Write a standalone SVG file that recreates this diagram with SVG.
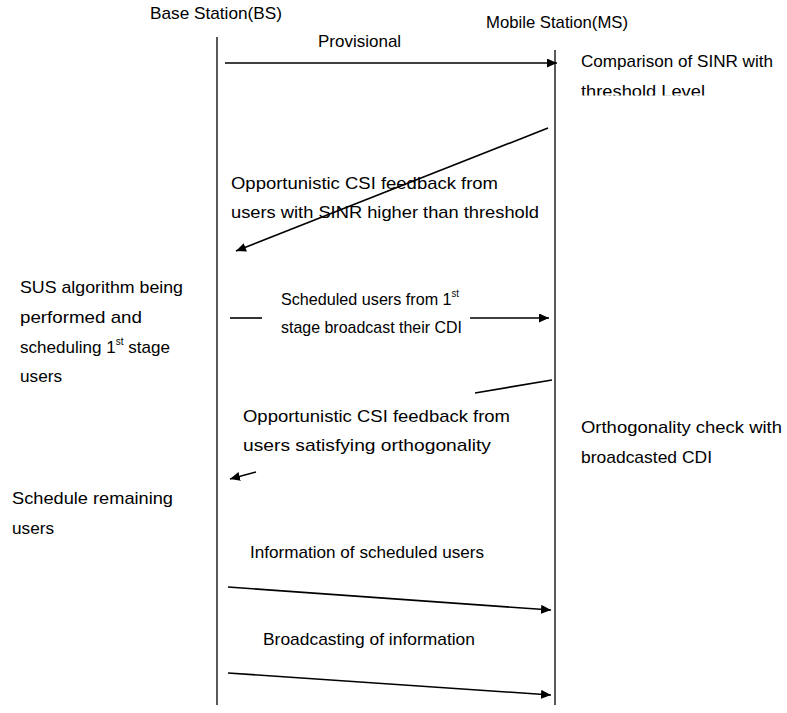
<svg xmlns="http://www.w3.org/2000/svg" width="787" height="713" viewBox="0 0 787 713">
<style>
text{font-family:"Liberation Sans",Arial,sans-serif;font-size:17px;fill:#000}
.l{stroke:#000;stroke-width:1.3;fill:none}
.c{stroke:#000;stroke-width:1.6;fill:none}
</style>
<defs>
<marker id="ah" viewBox="0 0 10 10" refX="10" refY="5" markerWidth="10" markerHeight="9" markerUnits="userSpaceOnUse" orient="auto" preserveAspectRatio="none">
<path d="M0,0L10,5L0,10z" fill="#000"/>
</marker>
<clipPath id="cp1"><rect x="570" y="75" width="217" height="20.5"/></clipPath>
<clipPath id="cp2"><rect x="570" y="445" width="217" height="21"/></clipPath>
</defs>
<g id="bs"><text x="150" y="19" textLength="132" lengthAdjust="spacingAndGlyphs">Base Station(BS)</text><line class="l" x1="217" y1="37" x2="217" y2="705"/></g>
<g id="ms"><text x="486" y="28" textLength="142" lengthAdjust="spacingAndGlyphs">Mobile Station(MS)</text><line class="l" x1="555" y1="50" x2="555" y2="705"/></g>
<g id="note-ms1"><text x="581" y="67" textLength="192" lengthAdjust="spacingAndGlyphs">Comparison of SINR with</text><text x="581" y="97" textLength="124" lengthAdjust="spacingAndGlyphs" clip-path="url(#cp1)">threshold Level</text></g>
<g id="note-bs1"><text x="20" y="293" textLength="163" lengthAdjust="spacingAndGlyphs">SUS algorithm being</text><text x="20" y="323" textLength="122" lengthAdjust="spacingAndGlyphs">performed and</text><text x="20" y="353" textLength="150" lengthAdjust="spacingAndGlyphs">scheduling 1<tspan font-size="10" dy="-8">st</tspan><tspan dy="8"> stage</tspan></text><text x="20" y="382" textLength="42" lengthAdjust="spacingAndGlyphs">users</text></g>
<g id="note-ms2"><text x="581" y="433" textLength="201" lengthAdjust="spacingAndGlyphs">Orthogonality check with</text><text x="581" y="463" textLength="131" lengthAdjust="spacingAndGlyphs" clip-path="url(#cp2)">broadcasted CDI</text></g>
<g id="note-bs2"><text x="12" y="504" textLength="161" lengthAdjust="spacingAndGlyphs">Schedule remaining</text><text x="12" y="534" textLength="42" lengthAdjust="spacingAndGlyphs">users</text></g>
<g id="labels">
<text x="318" y="47">Provisional</text>
<text x="231" y="189" textLength="267" lengthAdjust="spacingAndGlyphs">Opportunistic CSI feedback from</text>
<text x="231" y="218" textLength="308" lengthAdjust="spacingAndGlyphs">users with SINR higher than threshold</text>
<text x="281" y="305" textLength="178" lengthAdjust="spacingAndGlyphs">Scheduled users from 1<tspan font-size="10" dy="-8">st</tspan></text>
<text x="281" y="333" textLength="181" lengthAdjust="spacingAndGlyphs">stage broadcast their CDI</text>
<text x="243" y="422" textLength="267" lengthAdjust="spacingAndGlyphs">Opportunistic CSI feedback from</text>
<text x="243" y="451" textLength="248" lengthAdjust="spacingAndGlyphs">users satisfying orthogonality</text>
<text x="250" y="558" textLength="234" lengthAdjust="spacingAndGlyphs">Information of scheduled users</text>
<text x="263" y="645" textLength="212" lengthAdjust="spacingAndGlyphs">Broadcasting of information</text>
</g>
<g id="connectors">
<line class="c" x1="225" y1="63" x2="557" y2="63" marker-end="url(#ah)"/>
<line class="c" x1="548" y1="128" x2="236" y2="251" marker-end="url(#ah)"/>
<line class="c" x1="230" y1="318" x2="262" y2="318"/>
<line class="c" x1="470" y1="318" x2="549" y2="318" marker-end="url(#ah)"/>
<line class="c" x1="475" y1="393" x2="552" y2="380"/>
<line class="c" x1="256" y1="472" x2="230" y2="479" marker-end="url(#ah)"/>
<line class="c" x1="228" y1="587" x2="551" y2="610" marker-end="url(#ah)"/>
<line class="c" x1="228" y1="673" x2="551" y2="695" marker-end="url(#ah)"/>
</g>
</svg>
